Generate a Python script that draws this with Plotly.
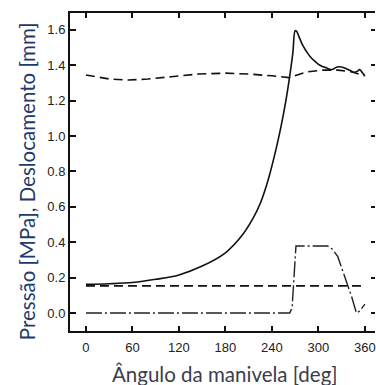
import plotly.graph_objects as go

# Pressure (solid)
p_deg = [0, 30, 60, 90, 120, 150, 180, 200, 215, 225, 235, 245, 252, 258, 263, 267, 270, 272, 275,
         280, 285, 290, 296, 302, 310, 316, 320, 324, 330, 336, 341, 346, 350, 353, 355, 358, 360]
p_val = [0.162, 0.165, 0.172, 0.19, 0.215, 0.265, 0.34, 0.43, 0.53, 0.62, 0.75, 0.92, 1.06, 1.2, 1.34,
         1.47, 1.595, 1.59, 1.56, 1.51, 1.475, 1.445, 1.42, 1.40, 1.385, 1.375, 1.38, 1.39, 1.39, 1.38,
         1.37, 1.36, 1.365, 1.375, 1.368, 1.35, 1.34]

# Displacement upper (dashed)
d_deg = [0, 30, 55, 80, 110, 145, 180, 210, 240, 262, 285, 306, 325, 341, 360]
d_val = [1.345, 1.322, 1.316, 1.322, 1.335, 1.35, 1.355, 1.35, 1.34, 1.33, 1.362, 1.372, 1.372, 1.364, 1.34]

# Lower constant (dashed)
c_deg = [0, 360]
c_val = [0.153, 0.153]

# Dash-dot curve
v_deg = [0, 263, 266, 268, 271, 312, 318, 325, 336, 343, 349, 353, 360]
v_val = [0.0, 0.0, 0.03, 0.2, 0.378, 0.378, 0.36, 0.318, 0.186, 0.09, 0.0, 0.01, 0.05]

x_ticks = [0, 60, 120, 180, 240, 300, 360]
y_ticks = [0.0, 0.2, 0.4, 0.6, 0.8, 1.0, 1.2, 1.4, 1.6]
y_labels = ["0.0", "0.2", "0.4", "0.6", "0.8", "1.0", "1.2", "1.4", "1.6"]

fig = go.Figure()
fig.add_trace(go.Scatter(x=c_deg, y=c_val, mode="lines",
                         line=dict(color="#111", width=1.6, dash="9px,5px")))
fig.add_trace(go.Scatter(x=v_deg, y=v_val, mode="lines",
                         line=dict(color="#222", width=1.4, dash="16px,3px,2px,3px")))
fig.add_trace(go.Scatter(x=d_deg, y=d_val, mode="lines",
                         line=dict(color="#111", width=1.6, dash="9px,5px")))
fig.add_trace(go.Scatter(x=p_deg, y=p_val, mode="lines", line_shape="spline",
                         line=dict(color="#111", width=1.6)))
fig.add_trace(go.Scatter(x=[None], y=[None], yaxis="y2", showlegend=False))

tickfont = dict(family="Liberation Sans, Arial", size=13, color="#222")
fig.update_layout(
    width=376, height=385,
    margin=dict(l=70, r=1, t=13, b=54),
    paper_bgcolor="white", plot_bgcolor="white",
    showlegend=False,
    xaxis=dict(range=[-20.6, 373], tickvals=x_ticks, ticks="inside", ticklen=5, tickwidth=2,
               tickcolor="#111", showline=True, linewidth=2, linecolor="#111", mirror="ticks",
               showgrid=False, zeroline=False, tickfont=tickfont, ticklabelstandoff=3),
    yaxis=dict(range=[-0.102, 1.695], tickvals=y_ticks, ticktext=y_labels, ticks="inside",
               ticklen=6, tickwidth=2, tickcolor="#111", showline=True, linewidth=2,
               linecolor="#111", mirror=False, showgrid=False, zeroline=False, tickfont=tickfont),
    yaxis2=dict(range=[-0.102, 1.695], overlaying="y", side="right", tickvals=y_ticks,
                ticks="inside", ticklen=4, tickwidth=2, tickcolor="#111", showline=False,
                showgrid=False, zeroline=False, showticklabels=False),
    annotations=[
        dict(text="Ângulo da manivela [deg]", xref="paper", yref="paper", x=0.5066, y=-0.135,
             xanchor="center", yanchor="middle", showarrow=False,
             font=dict(family="Lato", size=20.5, color="#3a3d4d")),
        dict(text="Pressão [MPa], Deslocamento [mm]", xref="paper", yref="paper", x=-0.14,
             y=0.472, xanchor="center", yanchor="middle", textangle=-90, showarrow=False,
             font=dict(family="Lato", size=20.5, color="#1F3A6B")),
    ],
)
fig.write_html("out.html", config={"displayModeBar": False},
               post_script="document.body.style.margin='0';document.body.style.overflow='hidden';")
